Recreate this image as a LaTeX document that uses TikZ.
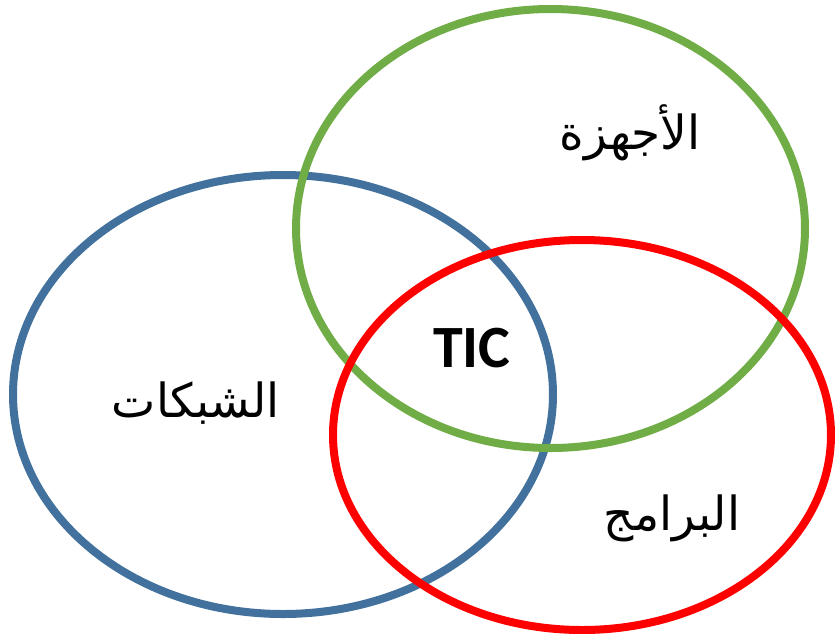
\documentclass[tikz,border=0pt]{standalone}
\usepackage{fontspec}
\TeXXeTstate=1
\newfontfamily\arabicfont[Script=Arabic]{DejaVu Sans}
\newfontfamily\latinbold{Carlito}
\definecolor{netblue}{HTML}{41719C}
\definecolor{hwgreen}{HTML}{70AD47}
\definecolor{swred}{HTML}{FF0000}
\begin{document}
\begin{tikzpicture}[x=1pt,y=-1pt,
  ring/.style={line width=8pt},
  arlabel/.style={font=\arabicfont\fontsize{47}{56}\selectfont, inner sep=0pt}]
\useasboundingbox (0,0) rectangle (836,633);
% the three overlapping domains
\draw[ring, netblue] (283,394.5) ellipse [x radius=270, y radius=219.5];
\draw[ring, hwgreen] (550.5,228.5) ellipse [x radius=254.5, y radius=219.5];
\draw[ring, swred] (582,435) ellipse [x radius=249, y radius=195];
% labels
\node[arlabel] (hw) at (630,133) {\beginR الأجهزة\endR};
\node[arlabel] (net) at (196,403) {\beginR الشبكات\endR};
\node[arlabel] (sw) at (672,518) {\beginR البرامج\endR};
\node[font=\latinbold\bfseries\fontsize{60}{66}\selectfont, inner sep=0pt] (tic) at (472,348) {TIC};
\end{tikzpicture}
\end{document}
